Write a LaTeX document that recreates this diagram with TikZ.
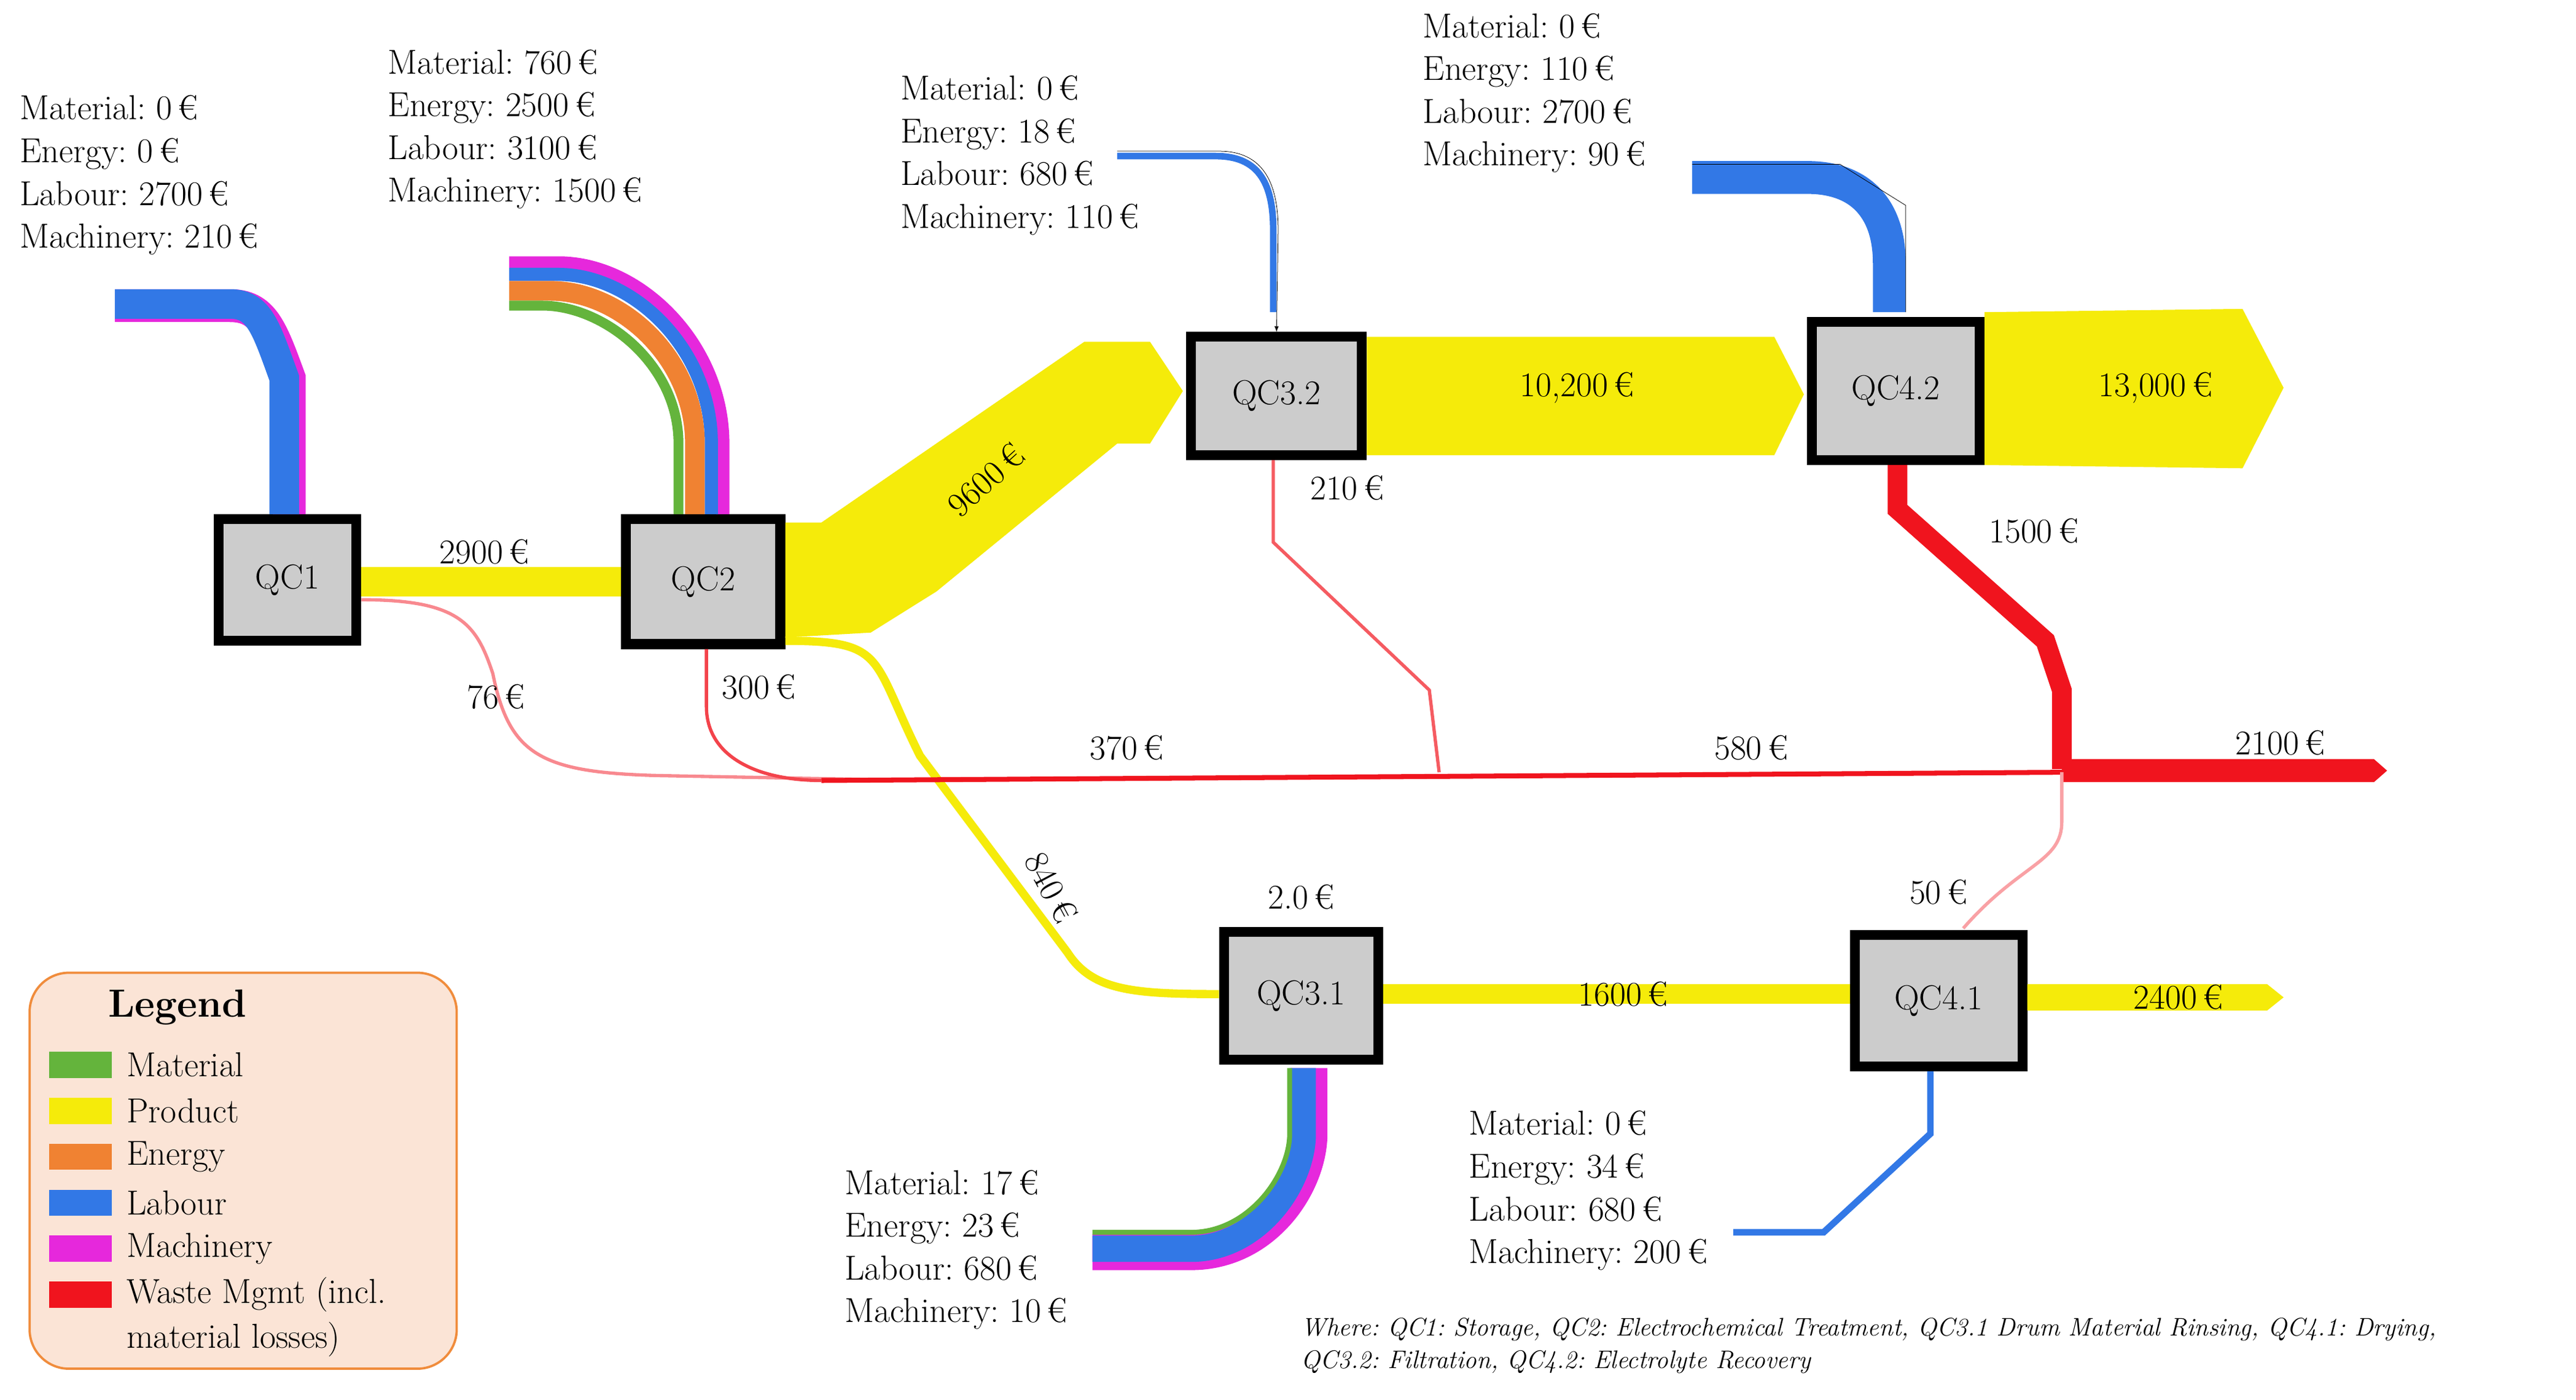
\documentclass[tikz,border=0pt]{standalone}
\usepackage{tikz}
\usetikzlibrary{positioning,arrows.meta}
\definecolor{prod}{RGB}{245,235,10}
\definecolor{lab}{RGB}{50,120,230}
\definecolor{mach}{RGB}{230,40,220}
\definecolor{ener}{RGB}{240,130,50}
\definecolor{mat}{RGB}{100,180,60}
\definecolor{waste}{RGB}{240,20,30}
\definecolor{legfill}{RGB}{251,228,214}
\definecolor{legdraw}{RGB}{240,140,60}
\tikzset{every picture/.style={>=Latex}}
\frenchspacing
\begin{document}
\begin{tikzpicture}[x=0.05cm,y=-0.05cm,
    font=\fontsize{30}{37}\selectfont,
    qc/.style={draw=black,line width=0.3cm,fill=black!20,minimum width=4.2cm,
      minimum height=3.8cm,font=\fontsize{30}{37}\selectfont},
    band/.style={line width=#1*0.05cm},
    cost/.style={align=left,anchor=north west,inner sep=0pt},
    lbl/.style={inner sep=1pt}
  ]
  \useasboundingbox (0,0) rectangle (1568,852);

  % Process boxes.
  \node[qc,minimum width=4.2cm,minimum height=3.7cm] (qc1) at (175,353) {QC1};
  \node[qc,minimum width=4.7cm,minimum height=3.8cm] (qc2) at (428,354) {QC2};
  \node[qc,minimum width=5.2cm,minimum height=3.6cm] (qc32) at (777,241) {QC3.2};
  \node[qc,minimum width=5.1cm,minimum height=4.2cm] (qc42) at (1154,238) {QC4.2};
  \node[qc,minimum width=4.7cm,minimum height=3.9cm] (qc31) at (792,606) {QC3.1};
  \node[qc,minimum width=5.1cm,minimum height=4cm] (qc41) at (1180,609) {QC4.1};

  % Product flows.
  \fill[prod] (220,345) rectangle (378,363);
  \fill[prod] (478,318) -- (500,318) -- (660,208) -- (700,208) -- (720,238)
    -- (700,270) -- (680,270) -- (570,360) -- (530,385) -- (478,388) -- cycle;
  \fill[prod] (832,205) -- (1080,205) -- (1098,240) -- (1080,277) -- (832,277) -- cycle;
  \fill[prod] (1208,190) -- (1365,188) -- (1390,236) -- (1365,285) -- (1208,283) -- cycle;
  \draw[prod,band=5] (478,390) .. controls (540,390) and (530,400) .. (560,460)
    -- (650,580) .. controls (665,603) and (690,605) .. (742,605);
  \draw[prod,band=12] (842,605) -- (1126,605);
  \fill[prod] (1234,599) -- (1380,599) -- (1390,607) -- (1380,615) -- (1234,615) -- cycle;

  % Input flows.
  \draw[mach,band=20] (70,186) -- (140,186) .. controls (160,186) and (165,200)
    .. (176,230) -- (176,313);
  \draw[lab,band=18] (70,185) -- (140,185) .. controls (158,185) and (162,200)
    .. (173,230) -- (173,313);
  \draw[mach,band=8] (310,160) -- (340,160) .. controls (390,160) and (440,210) .. (440,270) -- (440,313);
  \draw[lab,band=8] (310,167) -- (340,167) .. controls (385,167) and (433,212) .. (433,270) -- (433,313);
  \draw[ener,band=12] (310,177) -- (335,177) .. controls (378,177) and (423,218) .. (423,270) -- (423,313);
  \draw[mat,band=6] (310,186) -- (330,186) .. controls (368,186) and (413,222) .. (413,270) -- (413,313);
  \draw[lab,band=4] (680,95) -- (740,95) .. controls (765,95) and (775,110) .. (775,140) -- (775,190);
  \draw[->,thin] (680,92) -- (742,92) .. controls (768,92) and (778,110) .. (778,140) -- (qc32.north);
  \draw[lab,band=20] (1030,108) -- (1100,108) .. controls (1135,108) and (1150,130) .. (1150,160) -- (1150,190);
  \draw[thin] (1030,100) -- (1120,100) -- (1160,125) -- (1160,190);
  \draw[mach,band=22] (665,762) -- (725,762) .. controls (770,762) and (797,720) .. (797,690) -- (797,650);
  \draw[lab,band=16] (665,760) -- (725,760) .. controls (765,760) and (793,720) .. (793,690) -- (793,650);
  \draw[mat,band=3] (665,750) -- (725,750) .. controls (760,750) and (785,715) .. (785,690) -- (785,650);
  \draw[lab,band=4] (1055,750) -- (1110,750) -- (1175,690) -- (1175,652);

  % Waste flows.
  \draw[waste!50,band=2] (220,365) .. controls (280,365) and (290,380) .. (300,410)
    .. controls (310,460) and (330,470) .. (400,472) -- (560,475);
  \draw[waste!80,band=2] (430,395) -- (430,430) .. controls (430,460) and (460,475) .. (500,475);
  \draw[waste,band=3] (500,475) -- (1255,470);
  \draw[waste!70,band=2] (775,280) -- (775,330) -- (870,420) -- (876,470);
  \draw[waste,band=12] (1155,283) -- (1155,310) -- (1245,390) -- (1255,420) -- (1255,468);
  \fill[waste] (1255,462) -- (1445,462) -- (1453,469) -- (1445,476) -- (1255,476) -- cycle;
  \draw[waste!40,band=2] (1255,470) -- (1255,500) .. controls (1255,525) and (1230,525) .. (1195,565);

  % Flow labels.
  \node[lbl] (l2900) at (295,336) {2900\,€};
  \node[lbl,rotate=42] (l9600) at (600,292) {9600\,€};
  \node[lbl] (l10200) at (960,236) {10,200\,€};
  \node[lbl] (l13000) at (1312,236) {13,000\,€};
  \node[lbl] (l210) at (820,297) {210\,€};
  \node[lbl] (l1500) at (1238,323) {1500\,€};
  \node[lbl] (l76) at (302,424) {76\,€};
  \node[lbl] (l300) at (462,418) {300\,€};
  \node[lbl] (l370) at (686,455) {370\,€};
  \node[lbl] (l580) at (1066,455) {580\,€};
  \node[lbl] (l2100) at (1388,452) {2100\,€};
  \node[lbl,rotate=-62] (l840) at (640,540) {840\,€};
  \node[lbl] (l20) at (792,546) {2.0\,€};
  \node[lbl] (l50) at (1180,543) {50\,€};
  \node[lbl] (l1600) at (988,605) {1600\,€};
  \node[lbl] (l2400) at (1326,607) {2400\,€};

  % Cost breakdowns.
  \node[cost] (c1) at (12,58) {Material: 0\,€\\Energy: 0\,€\\Labour: 2700\,€\\Machinery: 210\,€};
  \node[cost] (c2) at (236,30) {Material: 760\,€\\Energy: 2500\,€\\Labour: 3100\,€\\Machinery: 1500\,€};
  \node[cost] (c32) at (548,46) {Material: 0\,€\\Energy: 18\,€\\Labour: 680\,€\\Machinery: 110\,€};
  \node[cost] (c42) at (866,8) {Material: 0\,€\\Energy: 110\,€\\Labour: 2700\,€\\Machinery: 90\,€};
  \node[cost] (c31) at (514,712) {Material: 17\,€\\Energy: 23\,€\\Labour: 680\,€\\Machinery: 10\,€};
  \node[cost] (c41) at (894,676) {Material: 0\,€\\Energy: 34\,€\\Labour: 680\,€\\Machinery: 200\,€};

  % Legend.
  \draw[legdraw,fill=legfill,line width=2pt,rounded corners=1.2cm] (18,592) rectangle (278,833);
  \node[font=\fontsize{34}{40}\selectfont\bfseries] (legend) at (108,613) {Legend};
  \foreach \c/\t [count=\i] in {mat/Material,prod/Product,ener/Energy,lab/Labour,mach/Machinery,waste/Waste Mgmt (incl.} {
    \fill[\c] (30,640+28*\i-28) rectangle (68,656+28*\i-28);
    \node[anchor=west,inner sep=0pt] (leg\i) at (77,648+28*\i-28) {\t};
  }
  \node[anchor=west,inner sep=0pt] (leg7) at (77,815) {material losses)};

  % Footnote.
  \node[anchor=west,inner sep=0pt,font=\fontsize{22}{28}\selectfont\itshape,align=left] (note) at (792,819)
    {Where: QC1: Storage, QC2: Electrochemical Treatment, QC3.1 Drum Material Rinsing, QC4.1: Drying,\\QC3.2: Filtration, QC4.2: Electrolyte Recovery};
\end{tikzpicture}
\end{document}
